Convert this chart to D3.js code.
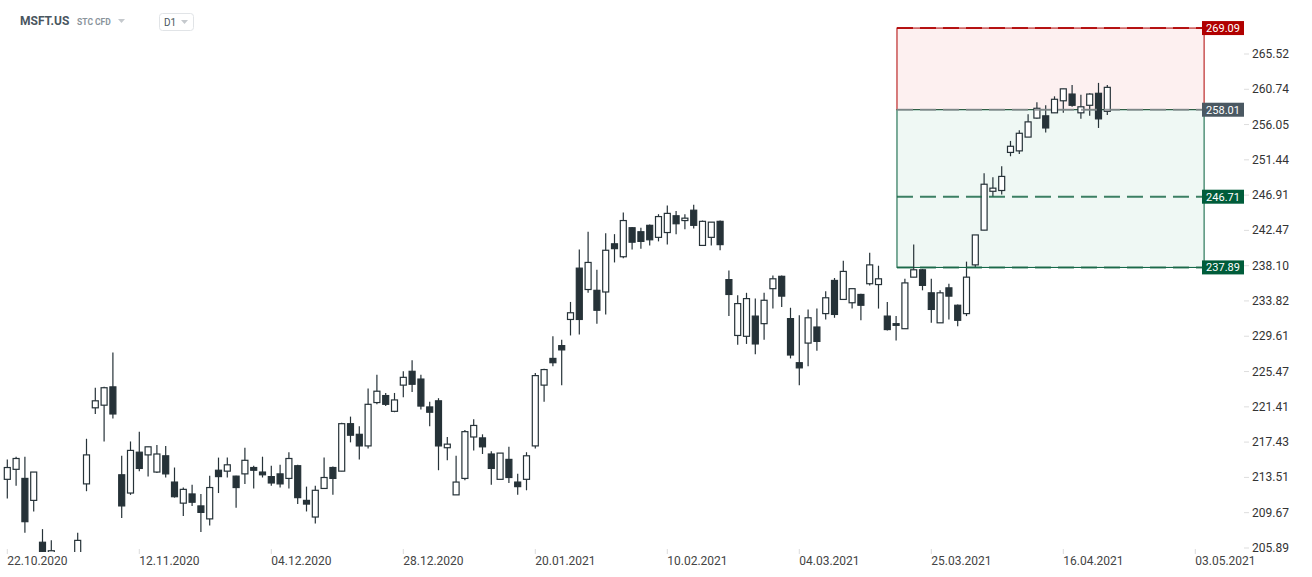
<!DOCTYPE html>
<html><head><meta charset="utf-8">
<script src="https://cdn.jsdelivr.net/npm/d3@7"></script>
<style>
body{margin:0;background:#fff;font-family:Roboto,"Noto Sans",sans-serif;}
</style></head>
<body><svg id="chart" width="1312" height="577"></svg>
<script>
// OHLC, one row per trading day starting 22.10.2020
const ohlc=[
[213.3,215.5,211.2,214.6],[214.4,215.8,212.6,215.6],[213.4,215.8,207.5,208.7],[211.0,214.1,209.8,214.1],
[206.5,207.9,205.1,205.5],[205.4,206.7,204.7,205.6],[204.8,205.3,202.3,202.8],[202.5,204.4,201.8,203.8],
[204.8,207.5,204.4,206.7],[212.8,217.8,212.0,216.0],[221.3,223.6,220.6,222.1],[221.6,223.7,217.5,223.6],
[223.7,227.7,220.1,220.6],[213.8,215.9,209.1,210.4],[211.8,217.5,211.6,216.5],[216.3,218.6,214.2,214.5],
[216.0,216.9,213.6,216.9],[214.1,217.1,214.0,216.1],[215.9,217.0,213.5,213.9],[213.0,214.6,211.3,211.4],
[210.7,212.4,209.3,212.2],[211.7,212.7,210.4,210.8],[210.4,211.7,207.6,209.7],[209.0,213.7,208.3,212.4],
[214.3,215.7,211.8,213.6],[214.2,215.7,213.5,214.9],[213.65,213.7,210.2,212.4],[213.9,216.8,212.8,215.4],
[214.6,214.8,212.3,214.3],[214.1,215.8,213.5,213.8],[213.6,214.8,212.6,212.9],[213.9,214.9,212.4,212.8],
[213.4,216.3,212.3,215.6],[214.8,214.9,210.6,211.3],[211.0,212.5,209.8,210.6],[209.2,212.6,208.5,212.1],
[212.3,215.7,212.3,213.5],[214.6,214.7,211.6,213.4],[214.2,219.6,214.2,219.5],[219.5,220.3,217.4,218.2],
[218.3,219.2,215.5,217.0],[217.0,223.5,216.7,221.7],[221.9,225.1,221.7,223.2],[222.7,223.0,221.5,221.7],
[220.9,223.0,220.8,222.2],[223.9,225.5,222.5,224.8],[225.5,226.8,223.1,224.0],[224.6,225.1,221.1,221.5],
[221.4,222.0,219.2,220.8],[222.1,222.4,214.3,217.0],[216.8,218.0,215.4,217.2],[211.6,215.9,211.6,213.0],
[213.4,218.8,213.2,218.6],[218.0,220.0,216.5,219.3],[217.9,218.3,216.1,216.9],[216.1,216.4,212.7,214.5],
[213.3,216.2,213.3,216.2],[215.5,216.9,212.9,213.5],[213.0,213.9,211.6,212.5],[213.3,216.3,212.1,215.9],
[217.0,225.3,216.7,225.0],[223.9,225.8,222.0,225.7],[227.0,229.6,226.1,226.5],[228.5,229.2,223.9,228.0],
[231.6,233.7,229.7,232.4],[237.8,240.1,229.8,231.6],[235.2,242.3,234.8,238.5],[235.1,237.6,231.1,232.7],
[234.9,242.1,232.2,240.0],[240.8,242.0,238.5,240.2],[239.2,244.7,239.0,243.7],[242.8,242.9,240.1,241.0],
[242.3,242.8,240.2,241.1],[243.1,243.2,240.6,241.3],[241.6,244.5,241.1,244.2],[242.2,245.6,240.7,244.6],
[244.3,244.9,242.0,243.3],[243.7,244.5,242.6,244.0],[245.0,245.7,242.7,243.1],[240.6,243.7,240.6,243.6],
[241.6,243.5,240.6,243.5],[243.6,243.7,240.0,240.7],[236.4,237.5,232.0,234.6],[229.7,234.5,228.6,233.5],
[229.6,234.8,228.7,234.1],[232.0,234.1,227.5,228.7],[231.1,234.8,229.2,233.9],[235.3,236.9,232.9,236.5],
[236.8,236.9,233.1,234.4],[231.7,233.0,227.0,227.4],[226.5,232.1,223.9,225.9],[228.8,232.8,226.1,231.8],
[230.7,232.9,227.9,229.0],[232.3,235.0,231.6,234.2],[236.3,236.6,231.8,232.2],[234.0,238.7,234.0,237.4],
[233.6,235.3,232.9,235.3],[234.6,234.7,231.5,233.3],[235.9,239.7,235.7,238.2],[235.8,238.1,232.9,236.5],
[232.0,233.7,230.3,230.4],[231.1,232.0,229.1,230.9],[230.5,236.5,230.5,236.0],[236.7,240.7,236.7,237.6],
[237.6,237.7,235.1,235.7],[234.8,236.5,231.2,232.8],[231.2,235.1,231.2,234.8],[235.4,235.9,231.6,234.4],
[233.3,233.4,230.8,231.5],[232.3,238.6,232.0,236.7],[238.2,241.9,237.9,241.9],[242.5,249.7,242.5,248.3],
[247.4,249.2,246.7,247.8],[247.5,250.6,247.0,249.3],[252.4,253.9,251.9,253.2],[252.6,255.3,252.2,254.9],
[254.4,257.4,254.4,256.4],[256.9,259.0,256.8,258.2],[257.2,258.6,255.0,255.6],[257.6,259.8,257.6,259.4],
[259.2,260.8,257.6,260.8],[260.1,261.3,258.4,258.6],[257.6,260.0,256.8,258.4],[258.6,260.2,257.2,260.1],
[260.2,261.6,255.6,256.8],[257.8,261.3,257.3,261.0]
];
const dateLabels=["22.10.2020","12.11.2020","04.12.2020","28.12.2020","20.01.2021","10.02.2021","04.03.2021","25.03.2021","16.04.2021","03.05.2021"];
const dateIdx=[0,15,30,45,60,75,90,105,120,135];
const priceTicks=[265.52,260.74,256.05,251.44,246.91,242.47,238.10,233.82,229.61,225.47,221.41,217.43,213.51,209.67,205.89];
// position tool: target / entry / stop / stop-loss
const levels=[
  {v:269.09,bg:"#b00000",line:"#b00000"},
  {v:258.01,bg:"#4a5862",line:"#8a8f93"},
  {v:246.71,bg:"#005c3a",line:"#1d6b4a"},
  {v:237.89,bg:"#005c3a",line:"#1d6b4a"}
];
const zoneFrom=101.1, zoneTo=136;

const svg=d3.select('#chart');
const x=d3.scaleLinear().domain([0,1]).range([7.3,16.1]);
const y=d3.scaleLog().domain([205.89,265.52]).range([548,54]);
const plotW=1240, plotTop=0, plotBot=552;

svg.append('defs').append('clipPath').attr('id','clip')
  .append('rect').attr('x',0).attr('y',plotTop).attr('width',plotW).attr('height',plotBot-plotTop);
const plot=svg.append('g').attr('clip-path','url(#clip)');

// zones
const zx0=x(zoneFrom), zx1=x(zoneTo);
plot.append('rect').attr('x',zx0).attr('y',y(269.09)).attr('width',zx1-zx0).attr('height',y(258.01)-y(269.09))
  .attr('fill','#fdf0f0').attr('stroke','#b00000').attr('stroke-width',1);
plot.append('rect').attr('x',zx0).attr('y',y(258.01)).attr('width',zx1-zx0).attr('height',y(237.89)-y(258.01))
  .attr('fill','#eff8f4').attr('stroke','#005c3a').attr('stroke-width',1);

// candles
const c=plot.selectAll('g.c').data(ohlc).join('g').attr('class','c');
c.append('line').attr('x1',(d,i)=>x(i)).attr('x2',(d,i)=>x(i))
  .attr('y1',d=>y(d[1])).attr('y2',d=>y(d[2])).attr('stroke','#263238').attr('stroke-width',1.2);
c.append('rect').attr('x',(d,i)=>x(i)-3).attr('width',6)
  .attr('y',d=>y(Math.max(d[0],d[3])))
  .attr('height',d=>Math.max(1,Math.abs(y(d[0])-y(d[3]))))
  .attr('fill',d=>d[3]>=d[0]?'#fff':'#263238').attr('stroke','#263238').attr('stroke-width',1.2);

// dashed level lines
levels.forEach(l=>{
  plot.append('line').attr('x1',zx0).attr('x2',zx1).attr('y1',y(l.v)).attr('y2',y(l.v))
    .attr('stroke',l.line).attr('stroke-width',2).attr('stroke-dasharray','16,7').attr('opacity',0.85);
});

// right axis
const ax=svg.append('g');
priceTicks.forEach(p=>{
  ax.append('line').attr('x1',1244).attr('x2',1249).attr('y1',y(p)).attr('y2',y(p)).attr('stroke','#ddd');
  ax.append('text').attr('x',1252).attr('y',y(p)+4).text(p.toFixed(2))
    .attr('font-size',12).attr('fill','#333');
});
levels.forEach(l=>{
  ax.append('rect').attr('x',1202).attr('y',y(l.v)-7).attr('width',42).attr('height',14).attr('fill',l.bg);
  ax.append('text').attr('x',1223).attr('y',y(l.v)+4).attr('text-anchor','middle')
    .attr('font-size',11).attr('fill','#fff').text(l.v.toFixed(2));
});

// bottom axis
dateLabels.forEach((t,k)=>{
  const xx=x(dateIdx[k]);
  svg.append('line').attr('x1',xx).attr('x2',xx).attr('y1',549).attr('y2',554).attr('stroke','#ddd');
  svg.append('text').attr('x',xx).attr('y',565).text(t).attr('font-size',12).attr('fill','#444');
});

// header
svg.append('text').attr('x',20).attr('y',25).text('MSFT.US').attr('font-size',12).attr('font-weight','bold').attr('fill','#4a5660');
svg.append('text').attr('x',77).attr('y',25).text('STC  CFD').attr('font-size',8.5).attr('font-weight','bold').attr('fill','#8a949c');
svg.append('path').attr('d','M118,19 l7,0 l-3.5,4 z').attr('fill','#c5c9cd');
svg.append('rect').attr('x',159.5).attr('y',13.5).attr('width',34).attr('height',17).attr('rx',3)
  .attr('fill','#fff').attr('stroke','#e1e4e7');
svg.append('text').attr('x',164).attr('y',26).text('D1').attr('font-size',10).attr('fill','#4a5660');
svg.append('path').attr('d','M181,20 l7,0 l-3.5,4 z').attr('fill','#c5c9cd');
</script></body></html>
